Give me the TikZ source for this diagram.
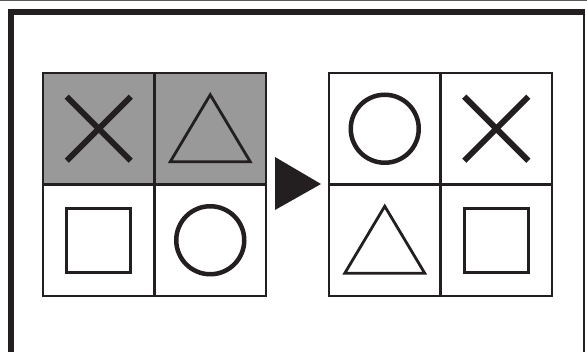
\documentclass[tikz,border=0pt]{standalone}
\definecolor{ink}{RGB}{35,31,32}
\definecolor{shade}{RGB}{153,153,153}
\newcommand\drawcross[1]{\draw[ink,line width=6pt,line cap=butt] ($(#1)+(-32,-32)$) -- ($(#1)+(32,32)$) ($(#1)+(32,-32)$) -- ($(#1)+(-32,32)$);}
\newcommand\drawtri[1]{\draw[ink,line width=2.8pt,line join=miter] ($(#1)+(0,-34)$) -- ($(#1)+(40,33)$) -- ($(#1)+(-40,33)$) -- cycle;}
\newcommand\drawsq[1]{\draw[ink,line width=2.6pt] ($(#1)+(-32,-32)$) rectangle ($(#1)+(32,32)$);}
\newcommand\drawcirc[1]{\draw[ink,line width=4.5pt] (#1) circle[radius=34];}
\usetikzlibrary{calc}
\begin{document}
\begin{tikzpicture}[x=1pt,y=-1pt,
  cell/.style={draw=ink,line width=2.5pt,minimum size=111.5pt,inner sep=0pt,outer sep=0pt}]
\useasboundingbox (0,0) rectangle (587,352);
% frame
\fill[ink!75] (0,0) rectangle (587,1.3);
\fill[ink] (8,9) rectangle (14,352);
\fill[ink] (8,9) rectangle (585.3,15);
\fill[ink] (582.7,9) rectangle (585.3,352);
% left grid
\node[cell,fill=shade] (a1) at (98.75,128.75) {};
\node[cell,fill=shade] (a2) at (210.25,128.75) {};
\node[cell] (a3) at (98.75,240.25) {};
\node[cell] (a4) at (210.25,240.25) {};
% right grid
\node[cell] (b1) at (384.75,128.75) {};
\node[cell] (b2) at (496.25,128.75) {};
\node[cell] (b3) at (384.75,240.25) {};
\node[cell] (b4) at (496.25,240.25) {};
% shapes
\drawcross{a1}
\drawtri{a2}
\drawsq{a3}
\drawcirc{a4}
\drawcirc{b1}
\drawcross{b2}
\drawtri{b3}
\drawsq{b4}
% arrow
\fill[ink] (275,157) -- (321,184) -- (275,210) -- cycle;
\end{tikzpicture}
\end{document}
